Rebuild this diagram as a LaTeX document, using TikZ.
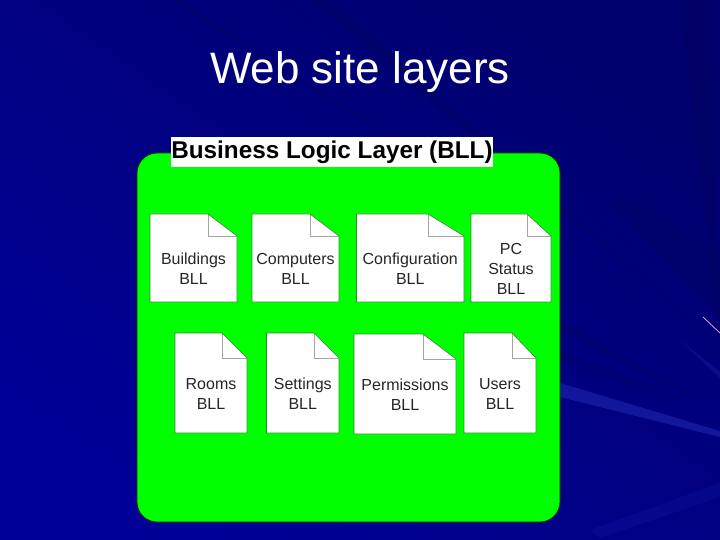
\documentclass[tikz,border=0pt]{standalone}
\usepackage{fontspec}
\usepackage{xcolor}
\usepackage{tikz}
\usetikzlibrary{positioning,calc}
\setmainfont{Liberation Sans}
\definecolor{slideblue}{RGB}{0,0,150}
\definecolor{slidedark}{RGB}{0,0,110}
\definecolor{raydark}{RGB}{0,0,85}
\definecolor{raylight}{RGB}{40,50,190}
\definecolor{layergreen}{RGB}{0,255,0}
\definecolor{foldgray}{RGB}{165,165,165}
\definecolor{pageedge}{RGB}{40,140,40}

% page with a turned corner: name, left, top, right, bottom, fold x, fold y, text
\newcommand{\bllpage}[8]{
    \fill[white] (#2,#3) -- (#6,#3) -- (#4,#7) -- (#4,#5) -- (#2,#5) -- cycle;
    \draw[foldline] (#6,#3) -- (#6,#7) -- (#4,#7);
    \draw[pageline] (#6,#3) -- (#2,#3) -- (#2,#5) -- (#4,#5) -- (#4,#7) -- cycle;
    \node[pagetext] (#1) at ({(#2+#4)/2},{(#3+#5)/2+11}) {#8};
}

\begin{document}
\begin{tikzpicture}[x=1pt, y=-1pt,
        pagetext/.style={align=center, font=\fontsize{16}{19.6}\selectfont, text=black!85, inner sep=0pt},
        foldline/.style={foldgray, line width=0.8pt},
        pageline/.style={pageedge, line width=0.6pt},
        ray/.style={fill=raydark, opacity=0.25},
        lightray/.style={fill=raylight, opacity=0.45}]

    \useasboundingbox (0,0) rectangle (720,540);
    % background
    \shade[top color=slidedark, bottom color=slideblue, shading angle=-35] (0,0) rectangle (720,540);
    \foreach \xa/\xb in {170/180, 310/330, 680/710}
        \fill[ray] (\xa,0) -- (\xb,0) -- (720,345) -- cycle;
    \fill[ray] (720,255) -- (720,320) -- (610,200) -- (640,200) -- cycle;
    \fill[ray] (560,320) -- (560,332) -- (710,405) -- cycle;
    \fill[ray] (560,350) -- (560,360) -- (690,405) -- cycle;
    \fill[lightray] (560,383) -- (560,397) -- (720,437) -- (720,431) -- cycle;
    \fill[lightray, opacity=0.15] (590,530) -- (600,538) -- (720,497) -- (720,483) -- cycle;
    \fill[lightray, opacity=0.25] (680,340) -- (684,344) -- (720,378) -- (720,372) -- cycle;
    \draw[white!70!magenta, line width=0.7pt] (703,317) -- (720,333);

    \node[inner sep=0pt, text=white, font=\fontsize{44}{50}\selectfont] (TITLE) at (360,72) {Web site layers};

    % layer
    \draw[fill=layergreen, draw=black!80!green, line width=0.8pt, rounded corners=20pt] (137,153) rectangle (560,522);
    \node[fill=white, inner sep=0pt, minimum width=322pt, minimum height=30pt, font=\fontsize{24.3}{28}\selectfont\bfseries] (BLL) at (332,152) {\raisebox{-1pt}{Business Logic Layer (BLL)}};

    % pages
    \bllpage{BUILD}{150}{214}{237}{302}{208}{236}{Buildings\\BLL}
    \bllpage{COMP}{252}{214}{339}{302}{310}{236}{Computers\\BLL}
    \bllpage{CONF}{356.5}{214}{464}{302}{428}{236}{Configuration\\BLL}
    \bllpage{PCS}{471}{214}{551}{302}{527}{236}{PC\\Status\\BLL}
    \bllpage{ROOM}{175}{333}{247}{433}{222}{358}{Rooms\\BLL}
    \bllpage{SET}{266.5}{333}{339}{433}{314}{358}{Settings\\BLL}
    \bllpage{PERM}{354}{334}{456}{434}{423}{359}{Permissions\\BLL}
    \bllpage{USER}{464}{333}{536}{433}{512}{358}{Users\\BLL}

\end{tikzpicture}
\end{document}
